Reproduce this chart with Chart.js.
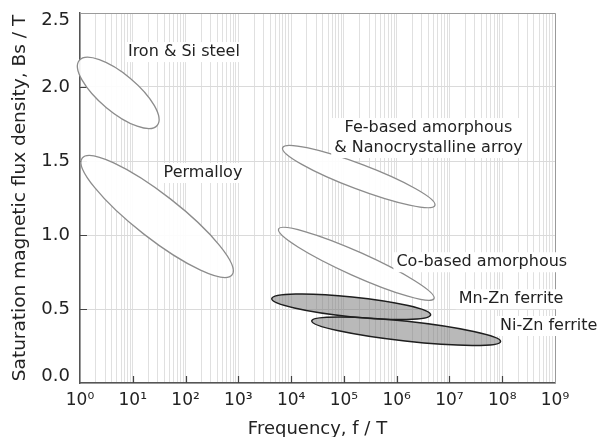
<!DOCTYPE html>
<html>
<head>
<meta charset="utf-8">
<script src="https://cdn.jsdelivr.net/npm/chart.js@4.4.0/dist/chart.umd.min.js"></script>
<style>
  html, body { margin: 0; padding: 0; background: #fff; }
  #wrap { width: 598px; height: 437px; }
</style>
</head>
<body>
<div id="wrap"><canvas id="bsChart" width="598" height="437"></canvas></div>
<script>
// each region is an ellipse: major axis from (freqStart, bsStart) to (freqEnd, bsEnd)
const materials = ['Iron & Si steel', 'Permalloy', 'Fe-based amorphous', 'Co-based amorphous', 'Mn-Zn ferrite', 'Ni-Zn ferrite'];
const freqStart = [0.97, 1.1, 6900, 5800, 4300, 24600];
const freqEnd = [29, 760, 5.3e6, 5.1e6, 4.4e6, 9.3e7];
const bsStart = [2.18, 1.52, 1.59, 1.04, 0.57, 0.42];
const bsEnd = [1.74, 0.73, 1.20, 0.57, 0.46, 0.28];
const bsHalfWidth = [0.128, 0.149, 0.084, 0.081, 0.067, 0.067];

const xTickLabels = ['10⁰', '10¹', '10²', '10³', '10⁴', '10⁵', '10⁶', '10⁷', '10⁸', '10⁹'];
const yTicks = [0, 0.5, 1.0, 1.5, 2.0, 2.5];

// text labels placed in data coordinates
const notes = [
    { text: ['Iron & Si steel'], f: 93, b: 2.236 },
    { text: ['Permalloy'], f: 214, b: 1.419 },
    { text: ['Fe-based amorphous', '& Nanocrystalline arroy'], f: 4.0e6, b: 1.655 },
    { text: ['Co-based amorphous'], f: 4.1e7, b: 0.816 },
    { text: ['Mn-Zn ferrite'], f: 1.47e8, b: 0.566 },
    { text: ['Ni-Zn ferrite'], f: 7.6e8, b: 0.385 }
];
const filled = ['Mn-Zn ferrite', 'Ni-Zn ferrite'];

const FONT = 'DejaVu Sans';

const framePlugin = {
    id: 'frame',
    beforeDatasetsDraw(chart) {
        const { ctx, chartArea: a, scales: { x, y } } = chart;
        ctx.save();
        // top and right border
        ctx.strokeStyle = '#9a9a9a';
        ctx.lineWidth = 1;
        ctx.beginPath();
        ctx.moveTo(a.left, a.top + 0.5);
        ctx.lineTo(a.right + 0.5, a.top + 0.5);
        ctx.lineTo(a.right + 0.5, a.bottom);
        ctx.stroke();
        // inward ticks
        ctx.strokeStyle = '#444';
        ctx.lineWidth = 1.2;
        ctx.beginPath();
        for (let k = 1; k < xTickLabels.length - 1; k++) {
            const px = Math.round(x.getPixelForValue(Math.pow(10, k))) + 0.5;
            ctx.moveTo(px, a.bottom);
            ctx.lineTo(px, a.bottom - 7);
        }
        yTicks.slice(1, -1).forEach(v => {
            const py = Math.round(y.getPixelForValue(v)) + 0.5;
            ctx.moveTo(a.left, py);
            ctx.lineTo(a.left + 7, py);
        });
        ctx.stroke();
        // y tick labels, kept inside the plot height
        ctx.font = '18px "' + FONT + '"';
        ctx.fillStyle = '#222';
        ctx.textAlign = 'right';
        ctx.textBaseline = 'middle';
        yTicks.forEach(v => {
            let py = y.getPixelForValue(v);
            py = Math.min(Math.max(py, a.top + 7.5), a.bottom - 7);
            ctx.fillText(v.toFixed(1), a.left - 10, py);
        });
        ctx.restore();
    }
};

const ellipsePlugin = {
    id: 'ellipses',
    beforeDatasetsDraw(chart) {
        const { ctx, scales: { y } } = chart;
        chart.data.datasets.forEach((ds, i) => {
            const pts = chart.getDatasetMeta(i).data;
            const p1 = pts[0], p2 = pts[1];
            const cx = (p1.x + p2.x) / 2;
            const cy = (p1.y + p2.y) / 2;
            const ra = Math.hypot(p2.x - p1.x, p2.y - p1.y) / 2;
            const rb = Math.abs(y.getPixelForValue(0) - y.getPixelForValue(ds.halfWidth));
            const ang = Math.atan2(p2.y - p1.y, p2.x - p1.x);
            const solid = filled.includes(ds.label);
            ctx.save();
            ctx.beginPath();
            ctx.ellipse(cx, cy, ra, rb, ang, 0, Math.PI * 2);
            ctx.fillStyle = solid ? 'rgba(120,120,120,0.52)' : 'rgba(255,255,255,0.92)';
            ctx.fill();
            ctx.strokeStyle = solid ? '#1e1e1e' : '#8c8c8c';
            ctx.lineWidth = solid ? 1.5 : 1.3;
            ctx.stroke();
            ctx.restore();
        });
    },
    afterDatasetsDraw(chart) {
        const { ctx, scales: { x, y } } = chart;
        ctx.save();
        ctx.font = '16px "' + FONT + '"';
        ctx.textAlign = 'center';
        ctx.textBaseline = 'middle';
        const lh = 20;
        notes.forEach(n => {
            const cx = x.getPixelForValue(n.f);
            const cy = y.getPixelForValue(n.b);
            const w = Math.max(...n.text.map(t => ctx.measureText(t).width)) + 6;
            const h = lh * n.text.length;
            ctx.fillStyle = '#fff';
            ctx.fillRect(cx - w / 2, cy - h / 2, w, h);
            ctx.fillStyle = '#222';
            n.text.forEach((t, j) => {
                ctx.fillText(t, cx, cy - h / 2 + lh / 2 + j * lh);
            });
        });
        ctx.restore();
    }
};

const ctx = document.getElementById('bsChart').getContext('2d');
const chart = new Chart(ctx, {
    type: 'scatter',
    data: {
        datasets: materials.map((name, i) => ({
            label: name,
            data: [{ x: freqStart[i], y: bsStart[i] }, { x: freqEnd[i], y: bsEnd[i] }],
            halfWidth: bsHalfWidth[i],
            showLine: false,
            pointRadius: 0
        }))
    },
    options: {
        responsive: false,
        animation: false,
        devicePixelRatio: 1,
        layout: { padding: { top: 13, right: 43, left: 0, bottom: 0 } },
        plugins: {
            legend: { display: false },
            tooltip: { enabled: false }
        },
        scales: {
            x: {
                type: 'logarithmic',
                min: 1,
                max: 1e9,
                afterBuildTicks: (axis) => {
                    const t = [];
                    for (let k = 0; k < 9; k++) {
                        for (let m = 1; m < 10; m++) t.push({ value: m * Math.pow(10, k) });
                    }
                    t.push({ value: 1e9 });
                    axis.ticks = t;
                },
                afterFit: (s) => { s.height = 54; },
                ticks: {
                    autoSkip: false,
                    maxRotation: 0,
                    padding: 7,
                    color: '#222',
                    font: { family: FONT, size: 17 },
                    callback: (value) => {
                        const k = Math.log10(value);
                        return Math.abs(k - Math.round(k)) < 1e-9 ? xTickLabels[Math.round(k)] : '';
                    }
                },
                grid: { color: '#e0e0e0', lineWidth: 1, drawTicks: false },
                border: { color: '#555', width: 1.5 },
                title: {
                    display: true,
                    text: 'Frequency, f / T',
                    color: '#222',
                    font: { family: FONT, size: 18, lineHeight: 0.8 },
                    padding: { top: 0, bottom: 0 }
                }
            },
            y: {
                min: 0,
                max: 2.5,
                afterBuildTicks: (axis) => { axis.ticks = yTicks.map(v => ({ value: v })); },
                afterFit: (s) => { s.width = 80; },
                ticks: { display: false },
                grid: { color: '#dadada', lineWidth: 1, drawTicks: false },
                border: { color: '#555', width: 1.5 },
                title: {
                    display: true,
                    text: 'Saturation magnetic flux density, Bs / T',
                    color: '#222',
                    font: { family: FONT, size: 18.5, lineHeight: 1.2 },
                    padding: { top: 9, bottom: 0 }
                }
            }
        }
    },
    plugins: [framePlugin, ellipsePlugin]
});
</script>
</body>
</html>
